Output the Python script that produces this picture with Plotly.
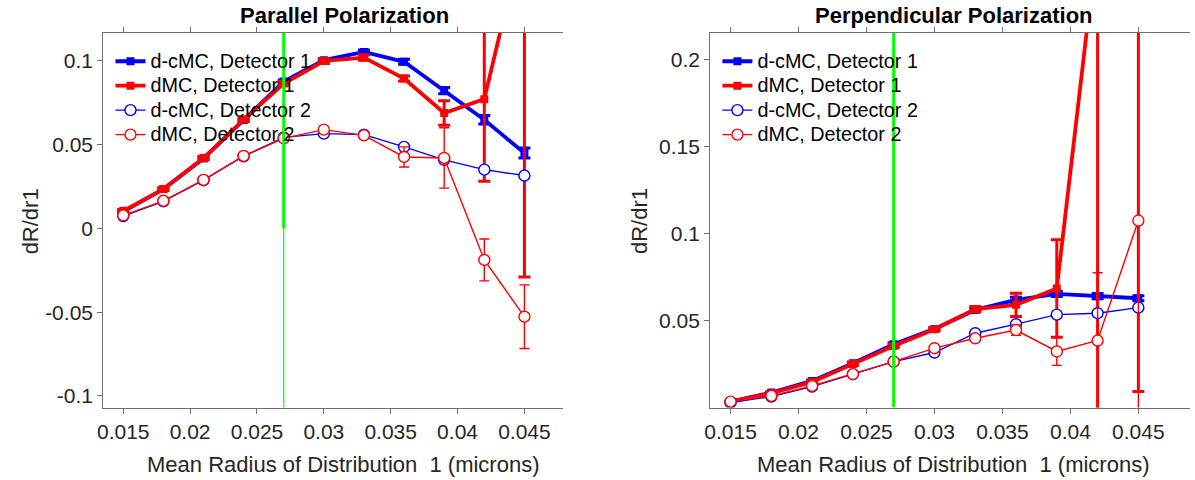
import plotly.graph_objects as go

# ---------------- data ----------------
radius = [0.015, 0.018, 0.021, 0.024, 0.027, 0.030, 0.033, 0.036, 0.039, 0.042, 0.045]

# Parallel polarization
par_dcmc1 = [0.0100, 0.0235, 0.0418, 0.0647, 0.0877, 0.1005, 0.1054, 0.0995, 0.0823, 0.0649, 0.0450]
par_dcmc1_err = [0.0005, 0.0006, 0.0008, 0.0008, 0.0010, 0.0010, 0.0012, 0.0015, 0.0018, 0.0025, 0.0030]
par_dmc1 = [0.0105, 0.0235, 0.0420, 0.0650, 0.0865, 0.1000, 0.1020, 0.0895, 0.0689, 0.0772, 0.1780]
par_dmc1_err = [0.0008, 0.0008, 0.0010, 0.0010, 0.0012, 0.0015, 0.0015, 0.0015, 0.0073, 0.0490, 0.2070]
par_dcmc2 = [0.0074, 0.0162, 0.0288, 0.0431, 0.0544, 0.0566, 0.0560, 0.0487, 0.0409, 0.0351, 0.0316]
par_dcmc2_err = [0.0003, 0.0003, 0.0004, 0.0004, 0.0005, 0.0005, 0.0005, 0.0006, 0.0006, 0.0006, 0.0006]
par_dmc2 = [0.0078, 0.0165, 0.0290, 0.0433, 0.0538, 0.0590, 0.0556, 0.0427, 0.0421, -0.0188, -0.0527]
par_dmc2_err = [0.0005, 0.0006, 0.0008, 0.0010, 0.0010, 0.0012, 0.0015, 0.0060, 0.0180, 0.0125, 0.0190]

# Perpendicular polarization
per_dcmc1 = [0.0036, 0.0088, 0.0155, 0.0257, 0.0366, 0.0454, 0.0563, 0.0621, 0.0655, 0.0642, 0.0630]
per_dcmc1_err = [0.0003, 0.0004, 0.0005, 0.0006, 0.0008, 0.0008, 0.0010, 0.0015, 0.0015, 0.0015, 0.0015]
per_dmc1 = [0.0036, 0.0084, 0.0149, 0.0252, 0.0355, 0.0452, 0.0567, 0.0592, 0.0686, 0.2700, 0.2500]
per_dmc1_err = [0.0004, 0.0005, 0.0006, 0.0008, 0.0010, 0.0010, 0.0015, 0.0067, 0.0280, 0.3000, 0.2406]
per_dcmc2 = [0.0030, 0.0065, 0.0122, 0.0194, 0.0266, 0.0318, 0.0429, 0.0481, 0.0536, 0.0544, 0.0576]
per_dcmc2_err = [0.0002, 0.0002, 0.0003, 0.0003, 0.0004, 0.0004, 0.0005, 0.0005, 0.0005, 0.0005, 0.0005]
per_dmc2 = [0.0036, 0.0069, 0.0126, 0.0194, 0.0266, 0.0343, 0.0400, 0.0447, 0.0324, 0.0387, 0.1077]
per_dmc2_err = [0.0003, 0.0004, 0.0005, 0.0006, 0.0008, 0.0010, 0.0012, 0.0030, 0.0080, 0.0390, 0.1200]

ref_radius = 0.027

series_names = ["d-cMC, Detector 1", "dMC, Detector 1", "d-cMC, Detector 2", "dMC, Detector 2"]

x_tickvals = [0.015, 0.02, 0.025, 0.03, 0.035, 0.04, 0.045]
x_ticktext = ["0.015", "0.02", "0.025", "0.03", "0.035", "0.04", "0.045"]
par_y_tickvals = [-0.1, -0.05, 0, 0.05, 0.1]
par_y_ticktext = ["-0.1", "-0.05", "0", "0.05", "0.1"]
per_y_tickvals = [0.05, 0.1, 0.15, 0.2]
per_y_ticktext = ["0.05", "0.1", "0.15", "0.2"]

titles = ["Parallel Polarization", "Perpendicular Polarization"]
x_label = "Mean Radius of Distribution\u00a0 1 (microns)"
y_label = "dR/dr1"

# ---------------- styling ----------------
FONT = "Liberation Sans, Arial, Helvetica, sans-serif"
TXT = "#262626"
AXC = "#707070"
BLUE = "#0000FF"
RED = "#FF0000"
GREEN = "#00FF00"

styles = [
    dict(color=BLUE, width=3.8, symbol="square", size=8, fill=BLUE, ew=0, eb=3, cap=6),
    dict(color=RED, width=3.8, symbol="square", size=8, fill=RED, ew=0, eb=3, cap=6),
    dict(color=BLUE, width=1.4, symbol="circle", size=11, fill="#FAFAFF", ew=1.4, eb=1.4, cap=5),
    dict(color=RED, width=1.4, symbol="circle", size=11, fill="#FFFAFA", ew=1.4, eb=1.4, cap=5),
]

fig = go.Figure()

panels = [
    ("x", "y", "legend", [par_dcmc1, par_dmc1, par_dcmc2, par_dmc2],
     [par_dcmc1_err, par_dmc1_err, par_dcmc2_err, par_dmc2_err]),
    ("x2", "y2", "legend2", [per_dcmc1, per_dmc1, per_dcmc2, per_dmc2],
     [per_dcmc1_err, per_dmc1_err, per_dcmc2_err, per_dmc2_err]),
]

for xa, ya, lg, vals, errs in panels:
    for name, v, e, st in zip(series_names, vals, errs, styles):
        fig.add_trace(go.Scatter(
            x=radius, y=v, mode="lines+markers",
            name="<span style='font-size:19.8px'>%s</span>" % name,
            xaxis=xa, yaxis=ya, legend=lg,
            line=dict(color=st["color"], width=st["width"]),
            marker=dict(symbol=st["symbol"], size=st["size"], color=st["fill"],
                        line=dict(color=st["color"], width=st["ew"])),
            error_y=dict(type="data", array=e, visible=True, color=st["color"],
                         thickness=st["eb"], width=st["cap"]),
        ))

# green reference lines
fig.add_trace(go.Scatter(x=[ref_radius, ref_radius], y=[0, 1], mode="lines",
                         line=dict(color=GREEN, width=3), showlegend=False,
                         xaxis="x", yaxis="y", hoverinfo="skip"))
fig.add_trace(go.Scatter(x=[ref_radius, ref_radius], y=[-1, 0], mode="lines",
                         line=dict(color=GREEN, width=1.2), showlegend=False,
                         xaxis="x", yaxis="y", hoverinfo="skip"))
fig.add_trace(go.Scatter(x=[ref_radius, ref_radius], y=[0, 1], mode="lines",
                         line=dict(color=GREEN, width=3), showlegend=False,
                         xaxis="x2", yaxis="y2", hoverinfo="skip"))

W, H = 1195, 480
ydom = [(480 - 407.5) / H, (480 - 33) / H]

def xaxis(dom, anchor, rng):
    return dict(domain=dom, anchor=anchor, range=rng, tickvals=x_tickvals, ticktext=x_ticktext,
                showline=True, linecolor=AXC, linewidth=1, mirror="ticks",
                ticks="outside", ticklen=5, tickcolor=AXC, showgrid=False, zeroline=False,
                tickfont=dict(family=FONT, size=21, color=TXT))

def yaxis(anchor, rng, tv, tt):
    return dict(domain=ydom, anchor=anchor, range=rng, tickvals=tv, ticktext=tt,
                showline=True, linecolor=AXC, linewidth=1, mirror=False,
                ticks="outside", ticklen=5, tickcolor=AXC, showgrid=False, zeroline=False,
                tickfont=dict(family=FONT, size=21, color=TXT))

leg_common = dict(bgcolor="rgba(0,0,0,0)", borderwidth=0, font=dict(family=FONT, size=16.5, color="#000000"),
                  xanchor="left", yanchor="top", tracegroupgap=0)

fig.update_layout(
    width=W, height=H, margin=dict(l=0, r=0, t=0, b=0),
    paper_bgcolor="white", plot_bgcolor="white",
    xaxis=xaxis([97.7 / W, 560 / W], "y", [0.0135, 0.0479]),
    yaxis=yaxis("x", [-0.1069, 0.1167], par_y_tickvals, par_y_ticktext),
    xaxis2=xaxis([707.7 / W, 1190 / W], "y2", [0.0135, 0.0488]),
    yaxis2=yaxis("x2", [0.0002, 0.2155], per_y_tickvals, per_y_ticktext),
    legend=dict(x=105 / W, y=1 - 44 / H, **leg_common),
    legend2=dict(x=715 / W, y=1 - 44 / H, **leg_common),
    showlegend=True,
)

annots = [
    dict(text="<b>%s</b>" % titles[0], x=340 / W, y=1 - 15 / H, c="#000000"),
    dict(text="<b>%s</b>" % titles[1], x=953 / W, y=1 - 15 / H, c="#000000"),
    dict(text=x_label, x=339 / W, y=1 - 464 / H, c=TXT),
    dict(text=x_label, x=952 / W, y=1 - 464 / H, c=TXT),
]
for a in annots:
    c = a.pop("c")
    fig.add_annotation(xref="paper", yref="paper", showarrow=False, xanchor="center", yanchor="middle",
                       font=dict(family=FONT, size=22, color=c), **a)
for xp in [25, 636.7]:
    fig.add_annotation(xref="paper", yref="paper", showarrow=False, xanchor="center", yanchor="middle",
                       text=y_label, textangle=-90, x=xp / W, y=1 - 221.5 / H,
                       font=dict(family=FONT, size=22, color=TXT))

fig.write_html("out.html")
